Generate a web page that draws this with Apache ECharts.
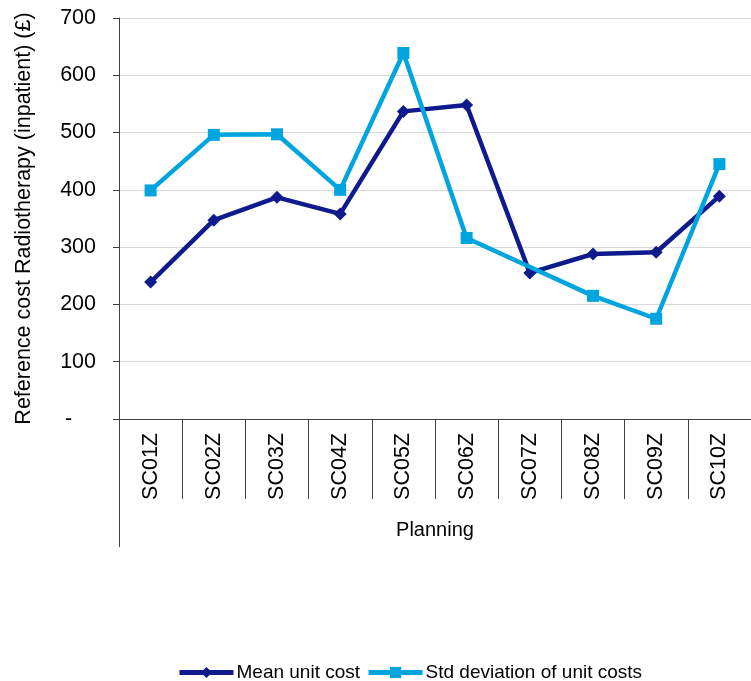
<!DOCTYPE html>
<html>
<head>
<meta charset="utf-8">
<script src="https://cdn.jsdelivr.net/npm/echarts@6/dist/echarts.min.js"></script>
<style>html,body{margin:0;padding:0;background:#fff}#c{width:751px;height:681px}</style>
</head>
<body>
<div id="c"></div>
<script>
var categories = ['SC01Z','SC02Z','SC03Z','SC04Z','SC05Z','SC06Z','SC07Z','SC08Z','SC09Z','SC10Z'];
var meanUnitCost = [239, 347, 387, 358, 537, 548, 255, 288, 291, 389];
var stdDeviation = [399, 496, 497, 400, 639, 316, null, 215, 175, 445];
var yTicks = [0, 100, 200, 300, 400, 500, 600, 700];

var chart = echarts.init(document.getElementById('c'), null, {renderer: 'canvas'});
var font = 'Liberation Sans, Arial, sans-serif';
chart.setOption({
  animation: false,
  textStyle: {fontFamily: font},
  grid: {left: 119, top: 18, right: -13, bottom: 262, containLabel: false},
  legend: {
    data: ['Mean unit cost', 'Std deviation of unit costs'],
    left: 172, top: 658,
    itemWidth: 54, itemHeight: 14, itemGap: 6,
    lineStyle: {width: 5},
    textStyle: {fontSize: 19, color: '#000', fontFamily: font, padding: [0,0,0,-2]}
  },
  xAxis: {
    type: 'category',
    data: categories,
    boundaryGap: true,
    axisLine: {show: true, lineStyle: {color: '#404040', width: 1}},
    axisTick: {show: true, interval: 0, length: 80, inside: false, lineStyle: {color: '#404040', width: 1}},
    axisLabel: {rotate: 90, interval: 0, margin: 14, fontSize: 21.5, color: '#000', fontFamily: font},
    name: 'Planning',
    nameLocation: 'middle',
    nameGap: 101,
    nameTextStyle: {fontSize: 20, color: '#000', fontFamily: font}
  },
  yAxis: {
    type: 'value',
    min: yTicks[0], max: yTicks[yTicks.length - 1], interval: 100,
    axisLine: {show: true, lineStyle: {color: '#404040', width: 1}},
    axisTick: {show: true, length: 6, lineStyle: {color: '#404040'}},
    splitLine: {show: true, lineStyle: {color: '#d9d9d9', width: 1}},
    axisLabel: {
      margin: 23, fontSize: 21.5, color: '#000', fontFamily: font,
      formatter: function (v) { return v === 0 ? '-    ' : String(v); }
    },
    name: 'Reference cost Radiotherapy (inpatient) (£)',
    nameLocation: 'middle',
    nameGap: 84,
    nameTextStyle: {fontSize: 21.5, color: '#000', fontFamily: font}
  },
  graphic: [{
    type: 'line', silent: true,
    shape: {x1: 119.5, y1: 419, x2: 119.5, y2: 547},
    style: {stroke: '#404040', lineWidth: 1}
  }],
  series: [
    {
      name: 'Mean unit cost', type: 'line', data: meanUnitCost,
      symbol: 'diamond', symbolSize: 13,
      lineStyle: {color: '#0f1a8c', width: 4.5},
      itemStyle: {color: '#0f1a8c'},
      z: 2
    },
    {
      name: 'Std deviation of unit costs', type: 'line', data: stdDeviation,
      connectNulls: true,
      symbol: 'rect', symbolSize: 12,
      lineStyle: {color: '#00a5df', width: 4.5},
      itemStyle: {color: '#00a5df'},
      z: 3
    }
  ]
});
</script>
</body>
</html>
